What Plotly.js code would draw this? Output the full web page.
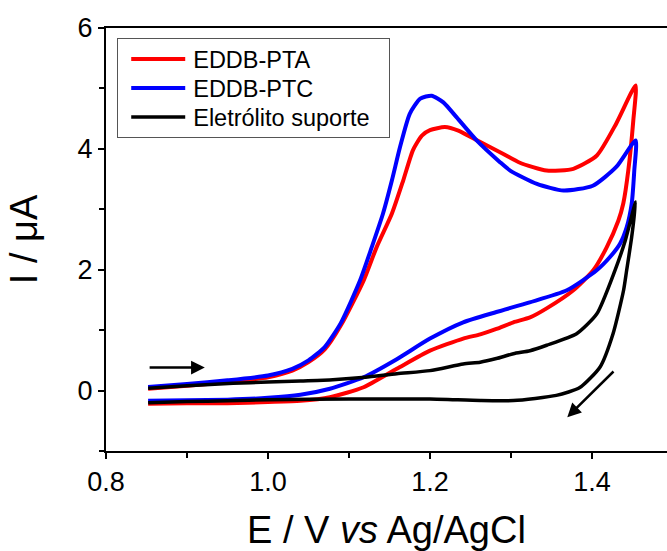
<!DOCTYPE html>
<html>
<head>
<meta charset="utf-8">
<script src="https://cdn.plot.ly/plotly-3.0.1.min.js"></script>
<style>html,body{margin:0;padding:0;background:#fff;}#chart{width:667px;height:551px;}</style>
</head>
<body>
<div id="chart"></div>
<script>
// EDDB-PTA (red): forward scan then reverse scan
const ptaX = [0.852,0.90,0.95,1.00,1.03,1.05,1.07,1.09,1.118,1.134,1.153,1.167,1.179,1.19,1.2,1.2185,1.235,1.258,1.29,1.311,1.344,1.377,1.406,1.430,1.4539,
              1.451,1.4448,1.4387,1.4325,1.4181,1.4016,1.377,1.344,1.3235,1.303,1.282,1.262,1.241,1.2,1.159,1.118,1.0765,1.04,1.0,0.95,0.90,0.852];
const ptaY = [0.03,0.08,0.14,0.22,0.33,0.47,0.68,1.08,1.82,2.37,2.93,3.48,3.98,4.22,4.31,4.36,4.30,4.14,3.92,3.77,3.64,3.67,3.89,4.42,5.05,
              4.47,3.64,3.10,2.81,2.37,1.99,1.66,1.36,1.21,1.13,1.02,0.93,0.86,0.66,0.36,0.055,-0.11,-0.17,-0.19,-0.21,-0.21,-0.22];

// EDDB-PTC (blue)
const ptcX = [0.852,0.90,0.95,1.00,1.03,1.05,1.07,1.09,1.1136,1.128,1.142,1.153,1.163,1.175,1.188,1.202,1.2165,1.233,1.2576,1.2864,1.299,1.332,1.365,1.401,1.430,1.4539,
              1.4522,1.449,1.4428,1.4346,1.4222,1.4058,1.369,1.323,1.282,1.241,1.2,1.159,1.118,1.0765,1.04,1.0,0.95,0.90,0.852];
const ptcY = [0.06,0.11,0.17,0.25,0.36,0.50,0.72,1.12,1.82,2.37,2.93,3.48,4.03,4.58,4.83,4.88,4.77,4.52,4.14,3.78,3.64,3.42,3.31,3.39,3.70,4.14,
              3.64,3.09,2.70,2.43,2.21,1.99,1.66,1.46,1.30,1.13,0.86,0.52,0.22,0.03,-0.07,-0.12,-0.15,-0.16,-0.17];

// Eletrólito suporte (black)
const eleX = [0.852,0.90,0.957,1.0,1.04,1.08,1.12,1.159,1.2,1.241,1.262,1.282,1.303,1.3235,1.344,1.381,1.406,1.4284,1.441,1.4539,
              1.449,1.4428,1.439,1.426,1.41,1.385,1.356,1.303,1.262,1.2,1.1,1.0,0.95,0.90,0.852];
const eleY = [0.04,0.08,0.12,0.14,0.16,0.18,0.22,0.28,0.33,0.44,0.47,0.53,0.61,0.66,0.75,0.94,1.27,1.99,2.48,3.12,
              2.54,1.99,1.66,0.94,0.39,0.05,-0.08,-0.165,-0.165,-0.14,-0.14,-0.15,-0.17,-0.18,-0.20];

// scan-direction arrows: [tailX, tailY, headX, headY]
const arrowForward = [0.852, 0.38, 0.922, 0.38];
const arrowReverse = [1.4284, 0.34, 1.3695, -0.44];

const xTicks = [0.8, 1.0, 1.2, 1.4];
const xTickText = ['0.8', '1.0', '1.2', '1.4'];
const yTicks = [0, 2, 4, 6];
const yTickText = ['0', '2', '4', '6'];

const FONT = 'Liberation Sans, Arial, sans-serif';

const traces = [
  {x: ptaX, y: ptaY, name: 'EDDB-PTA', mode: 'lines', line: {color: '#ff0000', width: 4, shape: 'spline', smoothing: 0.6}},
  {x: ptcX, y: ptcY, name: 'EDDB-PTC', mode: 'lines', line: {color: '#0000ff', width: 4, shape: 'spline', smoothing: 0.6}},
  {x: eleX, y: eleY, name: 'Eletrólito suporte', mode: 'lines', line: {color: '#000000', width: 3.5, shape: 'spline', smoothing: 0.6}}
];

function arrowAnn(a) {
  return {x: a[2], y: a[3], ax: a[0], ay: a[1], xref: 'x', yref: 'y', axref: 'x', ayref: 'y',
          text: '', showarrow: true, arrowhead: 2, arrowsize: 1.1, arrowwidth: 2.5, arrowcolor: '#000'};
}

const layout = {
  width: 667, height: 551,
  margin: {l: 106, r: 0, t: 28, b: 100, pad: 0},
  paper_bgcolor: '#fff', plot_bgcolor: '#fff',
  font: {family: FONT, color: '#000'},
  showlegend: true,
  legend: {x: 0.02, y: 0.976, xanchor: 'left', yanchor: 'top',
           bgcolor: '#fff', bordercolor: '#555', borderwidth: 1, itemwidth: 65,
           font: {family: FONT, size: 23.5, color: '#000'}, tracegroupgap: 0},
  xaxis: {
    range: [0.8, 1.4926], autorange: false,
    tickmode: 'array', tickvals: xTicks, ticktext: xTickText,
    ticks: 'outside', ticklen: 6, tickwidth: 2, tickcolor: '#000',
    minor: {dtick: 0.1, tick0: 0.8, ticks: 'outside', ticklen: 5, tickwidth: 2, tickcolor: '#000'},
    showline: true, linewidth: 2, linecolor: '#000', mirror: true,
    showgrid: false, zeroline: false,
    tickfont: {family: FONT, size: 27, color: '#000'},
    title: {text: 'E / V <i>vs</i> Ag/AgCl', font: {family: FONT, size: 38, color: '#000'}, standoff: 31},
    automargin: false
  },
  yaxis: {
    range: [-1, 6], autorange: false,
    tickmode: 'array', tickvals: yTicks, ticktext: yTickText,
    ticks: 'outside', ticklen: 6, tickwidth: 2, tickcolor: '#000',
    minor: {dtick: 1, tick0: 0, ticks: 'outside', ticklen: 5, tickwidth: 2, tickcolor: '#000'},
    showline: true, linewidth: 2, linecolor: '#000', mirror: false,
    showgrid: false, zeroline: false,
    tickfont: {family: FONT, size: 27, color: '#000'},
    title: {text: 'I / μA', font: {family: FONT, size: 38, color: '#000'}, standoff: 28},
    automargin: false
  },
  annotations: [arrowAnn(arrowForward), arrowAnn(arrowReverse)]
};

Plotly.newPlot('chart', traces, layout, {displayModeBar: false, staticPlot: true}).then(function (gd) {
  // lengthen legend line samples to match the reference
  gd.querySelectorAll('.legend .legendlines path').forEach(function (p) {
    p.setAttribute('d', 'M13,0h54');
  });
  // tighten legend row spacing to the reference's ~29 px and widen the box
  var items = gd.querySelectorAll('.legend .traces');
  if (items.length) {
    var m = /translate\(\s*([-\d.]+)[ ,]+([-\d.]+)\s*\)/.exec(items[0].getAttribute('transform') || '');
    if (m) {
      var x0 = parseFloat(m[1]), y0 = parseFloat(m[2]) - 2;
      items.forEach(function (it, i) {
        it.setAttribute('transform', 'translate(' + x0 + ',' + (y0 + i * 29) + ')');
      });
      var bg = gd.querySelector('.legend rect.bg');
      if (bg) { bg.setAttribute('height', 99); bg.setAttribute('width', 272); }
    }
  }
});
</script>
</body>
</html>
